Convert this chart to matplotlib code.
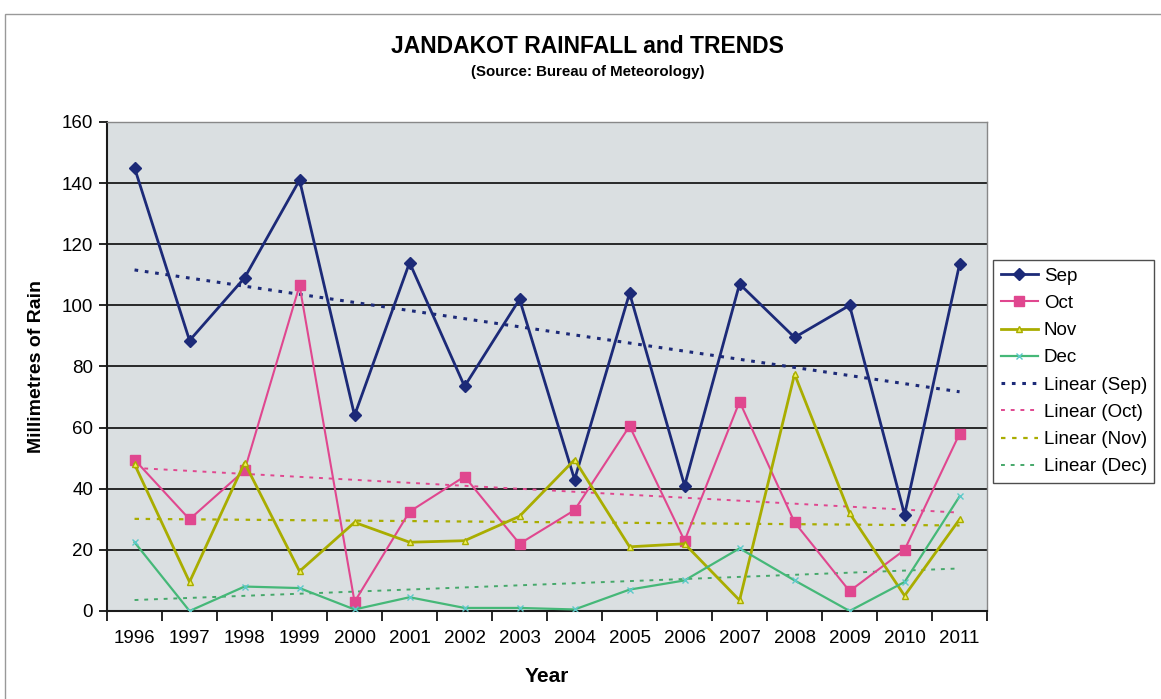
import numpy as np
import matplotlib
matplotlib.use("Agg")
import matplotlib.pyplot as plt
from matplotlib.patches import Rectangle

plt.rcParams['font.family'] = ['Liberation Sans', 'DejaVu Sans']

years = [str(y) for y in range(1996, 2012)]
sep = [145, 88.5, 109, 141, 64, 114, 73.5, 102, 43, 104, 41, 107, 89.5, 100, 31.5, 113.5]
octo = [49.5, 30, 46, 106.5, 3, 32.5, 44, 22, 33, 60.5, 23, 68.5, 29, 6.5, 20, 58]
nov = [48, 9.5, 48.5, 13, 29, 22.5, 23, 31, 49.5, 21, 22, 3.5, 77.5, 32, 5, 30]
dec = [22.5, 0, 8, 7.5, 0.5, 4.5, 1, 1, 0.5, 7, 10, 20.5, 10, 0, 9.5, 37.5]

series = [
    ("Sep", sep, "#1c2a78", "D", "#1c2a78", "#1c2a78", 6, 2.0),
    ("Oct", octo, "#e0478f", "s", "#e0478f", "#e0478f", 7, 1.5),
    ("Nov", nov, "#a9ad00", "^", "#f2f25a", "#a9ad00", 5, 2.0),
    ("Dec", dec, "#45b878", "x", "#5cc9c9", "#5cc9c9", 5, 1.6),
]

fig = plt.figure(figsize=(11.61, 6.99), dpi=100)
fig.patch.set_facecolor("white")
ax = fig.add_axes([0.0922, 0.1259, 0.7580, 0.6996])
ax.set_facecolor("#dadfe1")

x = np.arange(len(years))
ax.set_xlim(-0.5, len(years) - 0.5)
ax.set_ylim(0, 160)

for yv in range(20, 161, 20):
    ax.axhline(yv, color="#1a1a1a", lw=1.3, zorder=1)

handles = []
for name, vals, col, mk, mfc, mec, ms, lw in series:
    h, = ax.plot(x, vals, color=col, lw=lw, marker=mk, markerfacecolor=mfc,
                 markeredgecolor=mec, markersize=ms, zorder=4, label=name)
    handles.append(h)

trend_styles = {
    "Sep": ("#1c2a78", (0, (1.2, 2.2)), 2.2),
    "Oct": ("#e0478f", (0, (2, 3)), 1.4),
    "Nov": ("#a9ad00", (0, (2, 3)), 1.6),
    "Dec": ("#45a86a", (0, (2, 3)), 1.4),
}
for name, vals, *_ in series:
    k, b = np.polyfit(x, vals, 1)
    col, ls, lw = trend_styles[name]
    h, = ax.plot(x, k * x + b, color=col, lw=lw, linestyle=ls, zorder=3,
                 label=f"Linear ({name})")
    handles.append(h)

ax.set_yticks(range(0, 161, 20))
ax.set_xticks(x)
ax.set_xticklabels(years)
ax.set_xticks(np.arange(-0.5, len(years) + 0.5, 1), minor=True)
ax.tick_params(axis="x", which="major", length=0, labelsize=13.5, pad=14)
ax.tick_params(axis="x", which="minor", length=7, width=1.2, direction="out")
ax.tick_params(axis="y", length=6, width=1.2, direction="out", labelsize=13.5, pad=4)

for side in ("left", "bottom"):
    ax.spines[side].set_color("#1a1a1a")
    ax.spines[side].set_linewidth(1.5)
for side in ("top", "right"):
    ax.spines[side].set_color("#888888")
    ax.spines[side].set_linewidth(1.0)

ax.set_ylabel("Millimetres of Rain", fontsize=14, fontweight="bold", labelpad=12)
ax.set_xlabel("Year", fontsize=15, fontweight="bold", labelpad=14)

fig.text(0.506, 0.933, "JANDAKOT RAINFALL and TRENDS", ha="center", va="center",
         fontsize=16.5, fontweight="bold")
fig.text(0.506, 0.897, "(Source: Bureau of Meteorology)", ha="center", va="center",
         fontsize=10.8, fontweight="bold")

leg = fig.legend(handles=handles, loc="upper left", bbox_to_anchor=(0.8553, 0.628),
                 fontsize=13.5, frameon=True, fancybox=False, handlelength=2.0,
                 handletextpad=0.3, labelspacing=0.54, borderpad=0.4,
                 borderaxespad=0)
leg.get_frame().set_edgecolor("#222222")
leg.get_frame().set_linewidth(1.0)

fig.patches.append(Rectangle((0.004, -0.01), 1.1, 0.99, transform=fig.transFigure,
                             fill=False, edgecolor="#999999", lw=1.0))

fig.savefig("out.png", dpi=100)
